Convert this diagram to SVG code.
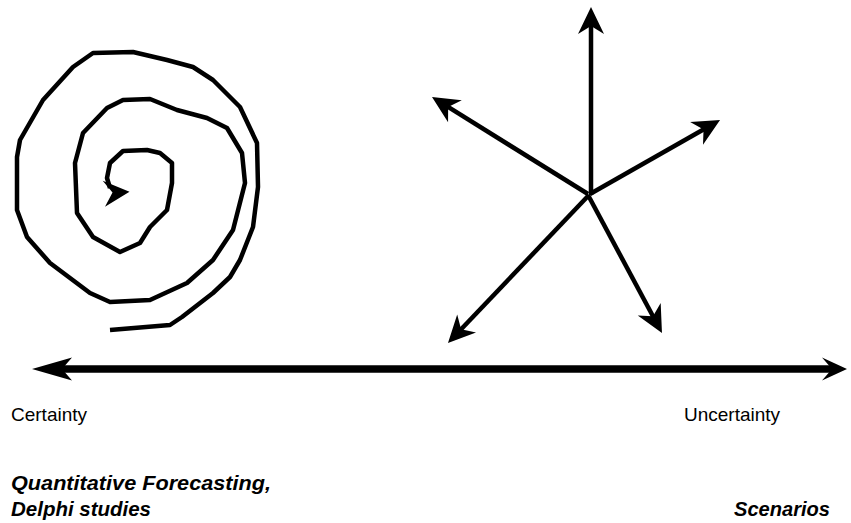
<svg xmlns="http://www.w3.org/2000/svg" width="851" height="523" viewBox="0 0 851 523">
<style>
.ln{stroke:#000;fill:none;stroke-linecap:butt}
.thin{stroke-width:4.5}
.thick{stroke-width:7.5}
.sp{stroke:#000;stroke-width:4.5;fill:none;stroke-linejoin:round;stroke-linecap:butt}
.t{font-family:"Liberation Sans",Arial,sans-serif;font-size:19px;fill:#000}
.bi{font-family:"Liberation Sans",Arial,sans-serif;font-size:21px;font-weight:bold;font-style:italic;fill:#000}
</style>
<defs>
<marker id="ah" markerUnits="userSpaceOnUse" orient="auto" markerWidth="40" markerHeight="40" refX="0" refY="0" overflow="visible">
<path d="M8,0 L-19,-13 L-11,0 L-19,13 Z" fill="#000"/>
</marker>
</defs>
<g id="spiral">
<polyline class="sp" points="110,330 170,325 182,317 213,293 230,277 240,260 253,227 258,187 257,143 240,107 213,80 193,67 167,60 133,52 93,53 73,67 43,100 20,140 17,157 17,210 27,237 50,263 90,293 110,302 150,300 187,283 213,260 233,230 245,183 242,153 227,128 207,118 177,110 150,99 123,100 107,108 83,133 75,163 77,213 93,237 120,252 140,243 150,227 167,210 172,183 172,163 160,153 147,150 123,151 110,163 107,178 110,188"/>
<path d="M129.5,191.7 L102.7,180.7 L112.5,192.5 L105,206.7 Z" fill="#000"/>
</g>
<g id="star" class="ln thin">
<line x1="591" y1="195" x2="591" y2="15" marker-end="url(#ah)"/>
<line x1="588" y1="194" x2="438.8" y2="101.2" marker-end="url(#ah)"/>
<line x1="590" y1="194" x2="713.1" y2="124" marker-end="url(#ah)"/>
<line x1="589" y1="195" x2="453.5" y2="337.2" marker-end="url(#ah)"/>
<line x1="588" y1="195" x2="658.2" y2="326" marker-end="url(#ah)"/>
</g>
<g id="connectors">
<line class="ln thick" x1="60" y1="369" x2="834" y2="369"/>
<path d="M32,369 L72,357.5 L62,369 L72,380.5 Z" fill="#000"/>
<path d="M847,369 L822,357.5 L832,369 L822,380.5 Z" fill="#000"/>
</g>
<g id="labels">
<text class="t" x="11" y="421">Certainty</text>
<text class="t" x="684" y="421">Uncertainty</text>
<text class="bi" x="11" y="490" textLength="260" lengthAdjust="spacingAndGlyphs">Quantitative Forecasting,</text>
<text class="bi" x="11" y="516" textLength="140" lengthAdjust="spacingAndGlyphs">Delphi studies</text>
<text class="bi" x="734" y="516" textLength="96" lengthAdjust="spacingAndGlyphs">Scenarios</text>
</g>
</svg>
